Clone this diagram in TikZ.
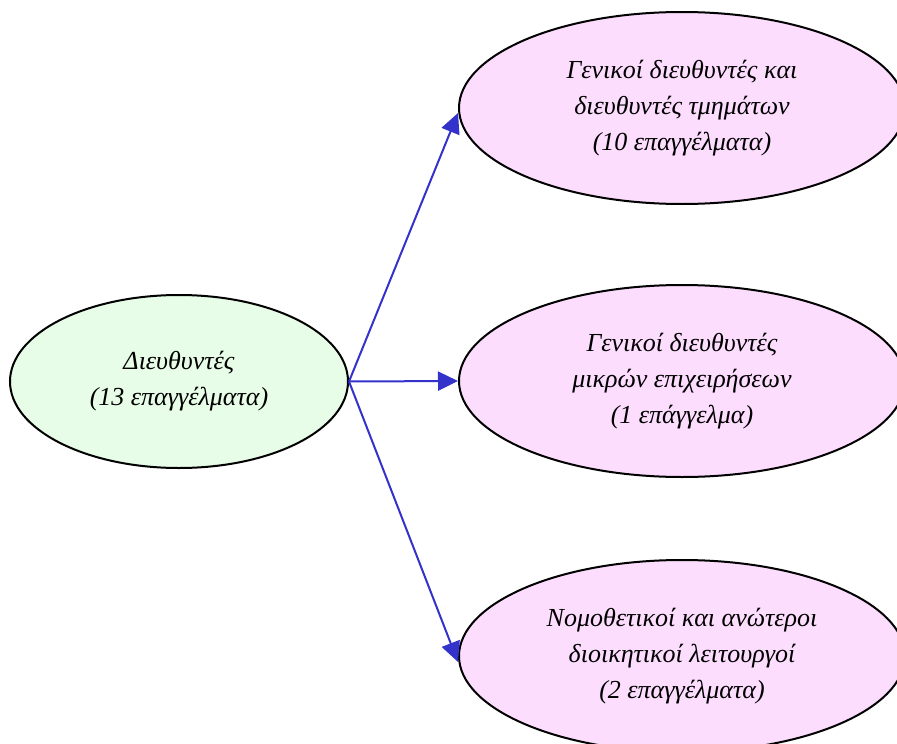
\documentclass[tikz,border=0pt]{standalone}
\usepackage{fontspec}
\setmainfont{Liberation Serif}
\usetikzlibrary{shapes.geometric,arrows.meta}
\definecolor{greenfill}{HTML}{E8FDE8}
\definecolor{pinkfill}{HTML}{FDDDFD}
\definecolor{arrowblue}{HTML}{3333CC}
\tikzset{
  ell/.style={ellipse, draw=black, line width=2pt, inner sep=0pt,
    align=center, font=\fontsize{26}{36}\selectfont\itshape},
  src/.style={ell, fill=greenfill, minimum width=338pt, minimum height=173pt},
  dst/.style={ell, fill=pinkfill, minimum width=446pt, minimum height=192pt},
  conn/.style={draw=arrowblue, line width=2pt,
    -{Triangle[length=20pt,width=19pt]}}
}
\begin{document}
\begin{tikzpicture}[x=1pt,y=-1pt]
\useasboundingbox (0,0) rectangle (897,744);
\node[src] (L) at (179,381.5) {Διευθυντές\\(13 επαγγέλματα)};
\node[dst] (T) at (682,108) {Γενικοί διευθυντές και\\διευθυντές τμημάτων\\(10 επαγγέλματα)};
\node[dst] (M) at (682,381) {Γενικοί διευθυντές\\μικρών επιχειρήσεων\\(1 επάγγελμα)};
\node[dst] (B) at (682,656) {Νομοθετικοί και ανώτεροι\\διοικητικοί λειτουργοί\\(2 επαγγέλματα)};
\draw[conn] (L.east) -- ([yshift=-5pt]T.west);
\draw[conn] (L.east) -- (M.west);
\draw[conn] (L.east) -- ([yshift=-6pt]B.west);
\end{tikzpicture}
\end{document}
